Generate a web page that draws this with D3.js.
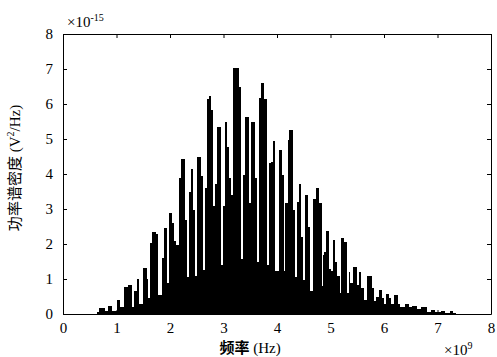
<!DOCTYPE html>
<html>
<head>
<meta charset="utf-8">
<script src="https://cdn.jsdelivr.net/npm/d3@7"></script>
<style>
  body { margin: 0; background: #fff; }
  svg text { font-family: "Liberation Serif", "Times New Roman", serif; fill: #000; }
  .cjk { font-family: "Noto Sans CJK SC", sans-serif; }
</style>
</head>
<body>
<svg id="chart" width="497" height="357"></svg>
<script>
// spectrum profile: step starts (x 10^9 Hz) and PSD level (x 10^-15 V^2/Hz)
var freq = [0, 0.64, 0.67, 0.79, 0.84, 0.92, 1.01, 1.07, 1.14, 1.21, 1.29, 1.33, 1.38, 1.42,
  1.50, 1.57, 1.59, 1.63, 1.66, 1.74, 1.78, 1.85, 1.89, 1.94, 1.98, 2.04, 2.07, 2.11, 2.17,
  2.21, 2.28, 2.31, 2.36, 2.39, 2.43, 2.47, 2.50, 2.58, 2.62, 2.65, 2.69, 2.73, 2.77, 2.80,
  2.84, 2.88, 2.95, 2.99, 3.03, 3.07, 3.10, 3.14, 3.18, 3.29, 3.33, 3.36, 3.40, 3.48, 3.51,
  3.59, 3.63, 3.66, 3.70, 3.76, 3.81, 3.85, 3.89, 3.93, 3.96, 4.04, 4.09, 4.13, 4.15, 4.21,
  4.22, 4.30, 4.34, 4.37, 4.41, 4.45, 4.49, 4.52, 4.58, 4.62, 4.67, 4.73, 4.79, 4.84, 4.86,
  4.88, 4.92, 4.97, 5.01, 5.05, 5.09, 5.12, 5.17, 5.20, 5.25, 5.30, 5.34, 5.37, 5.42, 5.50,
  5.53, 5.57, 5.63, 5.68, 5.78, 5.81, 5.85, 5.91, 5.96, 6.00, 6.04, 6.09, 6.13, 6.19, 6.26,
  6.30, 6.39, 6.47, 6.52, 6.62, 6.69, 6.80, 6.88, 6.95, 7.07, 7.14, 7.23, 7.29, 7.35, 8];
var psd = [0, 0.07, 0.16, 0.08, 0.23, 0.10, 0.40, 0.20, 0.77, 0.83, 0.20, 0.66, 1.00, 0.30,
  1.31, 1.00, 0.45, 2.03, 2.34, 2.30, 0.55, 1.60, 2.45, 0.90, 2.88, 2.60, 2.10, 1.97, 3.88,
  4.43, 2.70, 1.06, 3.48, 4.14, 2.97, 1.10, 4.50, 3.94, 1.26, 3.60, 6.14, 6.23, 5.83, 3.09,
  3.71, 5.35, 1.40, 3.09, 5.50, 4.78, 3.88, 3.40, 7.03, 6.50, 1.57, 3.97, 5.63, 3.17, 5.50,
  3.88, 1.49, 6.17, 6.60, 6.14, 1.40, 4.31, 4.33, 4.94, 1.23, 4.69, 3.97, 1.23, 3.17, 4.97,
  5.26, 2.97, 1.06, 3.19, 3.71, 2.20, 0.97, 3.40, 2.50, 0.67, 3.30, 3.60, 3.17, 0.80, 1.70,
  1.78, 2.37, 1.30, 1.24, 2.11, 1.50, 1.10, 0.59, 2.17, 2.07, 0.60, 1.20, 0.90, 1.35, 0.83,
  1.20, 0.74, 0.40, 1.10, 0.75, 0.37, 0.50, 0.68, 0.47, 0.30, 0.57, 0.45, 0.28, 0.55, 0.30,
  0.20, 0.30, 0.20, 0.24, 0.15, 0.21, 0.05, 0.11, 0.05, 0.09, 0.03, 0.09, 0.02, 0, 0];
var xTicks = [0, 1, 2, 3, 4, 5, 6, 7, 8];
var yTicks = [0, 1, 2, 3, 4, 5, 6, 7, 8];

var margin = {left: 63, right: 6, top: 34, bottom: 43};
var width = 497, height = 357;

var svg = d3.select("#chart");

var x = d3.scaleLinear().domain([0, 8]).range([margin.left, width - margin.right]);
var y = d3.scaleLinear().domain([0, 8]).range([height - margin.bottom, margin.top]);

var data = freq.map(function(f, i) { return {f: f, v: psd[i]}; });

// spectrum
var area = d3.area()
    .curve(d3.curveStepAfter)
    .x(function(d) { return x(d.f); })
    .y0(y(0))
    .y1(function(d) { return y(d.v); });

svg.append("path")
    .datum(data)
    .attr("d", area)
    .attr("fill", "#000")
    .attr("shape-rendering", "crispEdges");

// axes, ticks inside like matlab
function styleAxis(g) {
  g.select(".domain").attr("stroke", "#000");
  g.selectAll(".tick line").attr("stroke", "#000");
  g.selectAll("text").attr("font-size", 15).attr("font-family", "Liberation Serif, serif");
}

svg.append("g")
    .attr("transform", "translate(0," + y(0) + ")")
    .call(d3.axisBottom(x).tickValues(xTicks).tickSizeInner(-4).tickSizeOuter(0).tickPadding(8))
    .call(styleAxis);
svg.append("g")
    .attr("transform", "translate(0," + y(8) + ")")
    .call(d3.axisTop(x).tickValues(xTicks).tickSizeInner(-4).tickSizeOuter(0).tickFormat(""))
    .call(styleAxis);
svg.append("g")
    .attr("transform", "translate(" + x(0) + ",0)")
    .call(d3.axisLeft(y).tickValues(yTicks).tickSizeInner(-4).tickSizeOuter(0).tickPadding(10))
    .call(styleAxis);
svg.append("g")
    .attr("transform", "translate(" + x(8) + ",0)")
    .call(d3.axisRight(y).tickValues(yTicks).tickSizeInner(-4).tickSizeOuter(0).tickFormat(""))
    .call(styleAxis);

// exponent labels
var e1 = svg.append("text").attr("x", 67).attr("y", 27).attr("font-size", 15);
e1.append("tspan").text("×10");
e1.append("tspan").attr("font-size", 10).attr("dy", -6).text("-15");

var e2 = svg.append("text").attr("x", 444).attr("y", 355).attr("font-size", 15);
e2.append("tspan").text("×10");
e2.append("tspan").attr("font-size", 10).attr("dy", -6).text("9");

// axis titles
var xl = svg.append("text")
    .attr("x", 250).attr("y", 353)
    .attr("text-anchor", "middle")
    .attr("font-size", 15);
xl.append("tspan").attr("class", "cjk").attr("font-weight", "bold").text("频率");
xl.append("tspan").text(" (Hz)");

var yl = svg.append("text")
    .attr("transform", "translate(20,168) rotate(-90)")
    .attr("text-anchor", "middle")
    .attr("font-size", 15);
yl.append("tspan").attr("class", "cjk").text("功率谱密度");
yl.append("tspan").text(" (V");
yl.append("tspan").attr("font-size", 10).attr("dy", -6).text("2");
yl.append("tspan").attr("dy", 6).text("/Hz)");
</script>
</body>
</html>
